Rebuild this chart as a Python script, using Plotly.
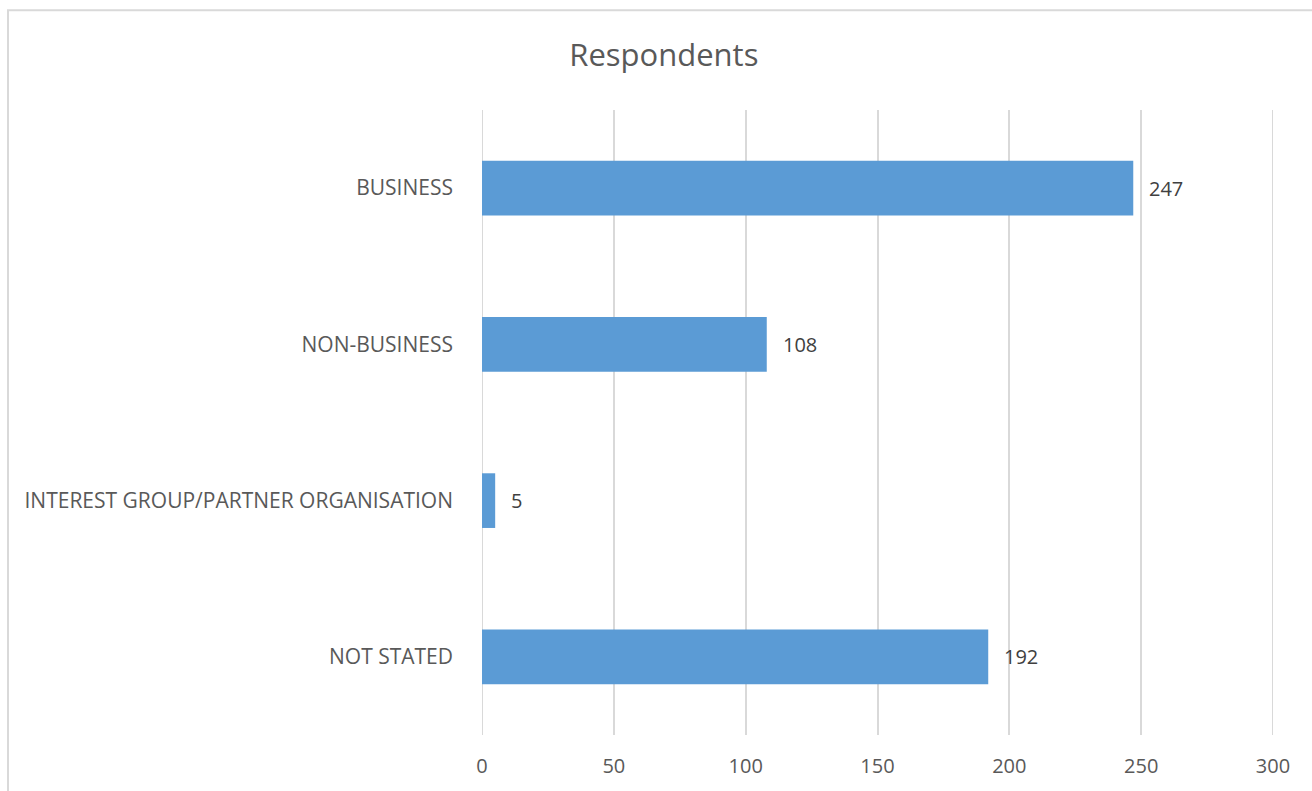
import plotly.graph_objects as go

categories = ["BUSINESS", "NON-BUSINESS", "INTEREST GROUP/PARTNER ORGANISATION", "NOT STATED"]
respondents = [247, 108, 5, 192]
x_ticks = [0, 50, 100, 150, 200, 250, 300]

W, H = 1312, 791
M_L, M_R, M_T, M_B = 482, 39, 110, 54
plot_w = W - M_L - M_R
plot_h = H - M_T - M_B

FONT = "Open Sans"
GRID = "#d9d9d9"

fig = go.Figure(
    go.Bar(
        x=respondents,
        y=categories,
        orientation="h",
        marker=dict(color="#5b9bd5", line=dict(width=0)),
        width=0.35,
        hoverinfo="x+y",
    )
)

# value labels just past the end of each bar
for cat, val in zip(categories, respondents):
    fig.add_annotation(
        x=val, y=cat, xref="x", yref="y",
        text=str(val), showarrow=False,
        xanchor="left", xshift=14,
        font=dict(family=FONT, size=20, color="#404040"),
    )

# plotly skips gridlines on the plot edges, so draw the first and last ones
for tv in (x_ticks[0], x_ticks[-1]):
    fig.add_shape(
        type="line", xref="x", yref="paper", x0=tv, x1=tv, y0=0, y1=1,
        line=dict(color=GRID, width=2), layer="below",
    )

# light frame around the chart area
fig.add_shape(
    type="rect", xref="paper", yref="paper",
    x0=(8 - M_L) / plot_w, x1=(W + 20 - M_L) / plot_w,
    y0=-(M_B + 20) / plot_h, y1=1 + (M_T - 10) / plot_h,
    line=dict(color=GRID, width=2), fillcolor="rgba(0,0,0,0)", layer="below",
)

fig.update_layout(
    width=W, height=H,
    margin=dict(l=M_L, r=M_R, t=M_T, b=M_B),
    paper_bgcolor="white", plot_bgcolor="white",
    showlegend=False,
    title=dict(
        text="Respondents", x=0.506, xanchor="center", y=1 - 55 / H, yanchor="middle",
        font=dict(family=FONT, size=31, color="#595959"),
    ),
    font=dict(family=FONT, color="#595959"),
    xaxis=dict(
        range=[0, 300], tickvals=x_ticks, showgrid=True, gridcolor=GRID, gridwidth=2,
        zeroline=False, showline=False, ticks="",
        tickfont=dict(family=FONT, size=20, color="#595959"),
        ticklabelstandoff=17,
    ),
    yaxis=dict(
        categoryorder="array", categoryarray=categories[::-1],
        showgrid=False, zeroline=False, showline=False, ticks="",
        tickfont=dict(family=FONT, size=21, color="#595959"),
        ticklabelstandoff=28,
    ),
)

fig.write_html("out.html")
